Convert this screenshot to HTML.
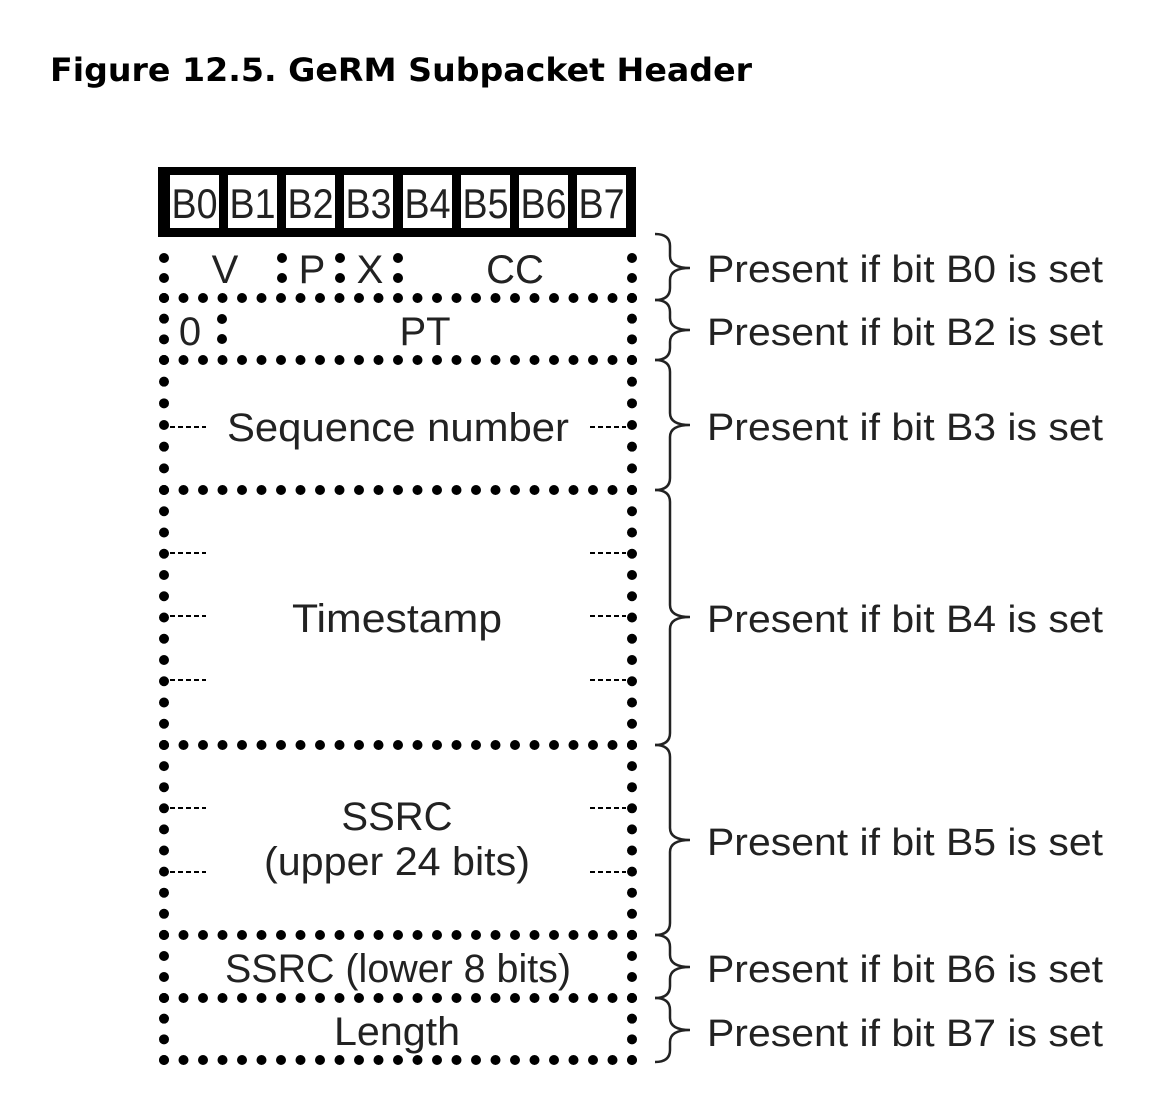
<!DOCTYPE html>
<html><head><meta charset="utf-8"><style>
html,body{margin:0;padding:0;background:#fff;}
svg{display:block;}
</style></head><body>
<svg width="1152" height="1116" viewBox="0 0 1152 1116" xmlns="http://www.w3.org/2000/svg">
<text x="50" y="81" font-family="DejaVu Sans, Liberation Sans, sans-serif" font-weight="bold" font-size="32" fill="#000" textLength="702" lengthAdjust="spacingAndGlyphs">Figure 12.5. GeRM Subpacket Header</text>
<rect x="158" y="167" width="478" height="70" fill="#000"/>
<g fill="#fff">
<rect x="170" y="175" width="49" height="53"/><rect x="228" y="175" width="49" height="53"/>
<rect x="286" y="175" width="49" height="53"/><rect x="344" y="175" width="49" height="53"/>
<rect x="403" y="175" width="49" height="53"/><rect x="461" y="175" width="49" height="53"/>
<rect x="519" y="175" width="49" height="53"/><rect x="577" y="175" width="49" height="53"/>
</g>
<g font-family="Liberation Sans, sans-serif" font-size="42" fill="#222" text-anchor="middle">
<text x="194.5" y="218" textLength="46" lengthAdjust="spacingAndGlyphs">B0</text>
<text x="252.5" y="218" textLength="46" lengthAdjust="spacingAndGlyphs">B1</text>
<text x="310.5" y="218" textLength="46" lengthAdjust="spacingAndGlyphs">B2</text>
<text x="368.5" y="218" textLength="46" lengthAdjust="spacingAndGlyphs">B3</text>
<text x="427.5" y="218" textLength="46" lengthAdjust="spacingAndGlyphs">B4</text>
<text x="485.5" y="218" textLength="46" lengthAdjust="spacingAndGlyphs">B5</text>
<text x="543.5" y="218" textLength="46" lengthAdjust="spacingAndGlyphs">B6</text>
<text x="601.5" y="218" textLength="46" lengthAdjust="spacingAndGlyphs">B7</text>
</g>
<g stroke="#000" stroke-width="10" stroke-linecap="round" stroke-dasharray="0 19.5" fill="none">
<line x1="164" y1="298" x2="632.5" y2="298"/>
<line x1="164" y1="360" x2="632.5" y2="360"/>
<line x1="164" y1="490" x2="632.5" y2="490"/>
<line x1="164" y1="745" x2="632.5" y2="745"/>
<line x1="164" y1="935" x2="632.5" y2="935"/>
<line x1="164" y1="998" x2="632.5" y2="998"/>
<line x1="164" y1="1060" x2="632.5" y2="1060"/>
</g>
<g stroke="#000" stroke-width="10" stroke-linecap="round" fill="none">
<path d="M164 258 V298.5 M632 258 V298.5" stroke-dasharray="0 20"/>
<path d="M164 298 V360.5 M632 298 V360.5" stroke-dasharray="0 20.67"/>
<path d="M164 360 V490.5 M632 360 V490.5" stroke-dasharray="0 21.67"/>
<path d="M164 490 V745.5 M632 490 V745.5" stroke-dasharray="0 21.25"/>
<path d="M164 745 V935.5 M632 745 V935.5" stroke-dasharray="0 21.1"/>
<path d="M164 935 V998.5 M632 935 V998.5" stroke-dasharray="0 21"/>
<path d="M164 998 V1060.5 M632 998 V1060.5" stroke-dasharray="0 20.67"/>
</g>
<g fill="#000">
<circle cx="282" cy="258" r="5"/><circle cx="282" cy="278" r="5"/>
<circle cx="340" cy="258" r="5"/><circle cx="340" cy="278" r="5"/>
<circle cx="398" cy="258" r="5"/><circle cx="398" cy="278" r="5"/>
<circle cx="222" cy="319" r="5"/><circle cx="222" cy="339" r="5"/>
</g>
<g stroke="#000" stroke-width="2" stroke-dasharray="5 3" fill="none">
<path d="M170 427 H206 M590 427 H626"/>
<path d="M170 553 H206 M590 553 H626"/>
<path d="M170 616 H206 M590 616 H626"/>
<path d="M170 680 H206 M590 680 H626"/>
<path d="M170 808 H206 M590 808 H626"/>
<path d="M170 872 H206 M590 872 H626"/>
</g>
<g font-family="Liberation Sans, sans-serif" font-size="40" fill="#222" text-anchor="middle">
<text x="225" y="283">V</text>
<text x="312" y="283">P</text>
<text x="370" y="283">X</text>
<text x="515" y="283">CC</text>
<text x="190" y="345">0</text>
<text x="425" y="345">PT</text>
<text x="398" y="441" textLength="342" lengthAdjust="spacingAndGlyphs">Sequence number</text>
<text x="397" y="632" textLength="210" lengthAdjust="spacingAndGlyphs">Timestamp</text>
<text x="397" y="830">SSRC</text>
<text x="397" y="875" textLength="266" lengthAdjust="spacingAndGlyphs">(upper 24 bits)</text>
<text x="398" y="982" textLength="346" lengthAdjust="spacingAndGlyphs">SSRC (lower 8 bits)</text>
<text x="397" y="1045" textLength="126" lengthAdjust="spacingAndGlyphs">Length</text>
</g>
<g stroke="#222" stroke-width="2.5" fill="none">
<path d="M655 234 Q670 234 670 246 L670 256 Q670 268 690 268 Q670 268 670 280 L670 288 Q670 300 655 300"/>
<path d="M655 300 Q670 300 670 312 L670 318 Q670 330 690 330 Q670 330 670 342 L670 348 Q670 360 655 360"/>
<path d="M655 360 Q670 360 670 372 L670 413 Q670 425 690 425 Q670 425 670 437 L670 478 Q670 490 655 490"/>
<path d="M655 490 Q670 490 670 502 L670 605 Q670 617 690 617 Q670 617 670 629 L670 733 Q670 745 655 745"/>
<path d="M655 745 Q670 745 670 757 L670 828 Q670 840 690 840 Q670 840 670 852 L670 923 Q670 935 655 935"/>
<path d="M655 935 Q670 935 670 947 L670 955 Q670 967 690 967 Q670 967 670 979 L670 986 Q670 998 655 998"/>
<path d="M655 998 Q670 998 670 1010 L670 1018 Q670 1030 690 1030 Q670 1030 670 1042 L670 1050 Q670 1062 655 1062"/>
</g>
<g font-family="Liberation Sans, sans-serif" font-size="38" fill="#222">
<text x="707" y="282" textLength="396" lengthAdjust="spacingAndGlyphs">Present if bit B0 is set</text>
<text x="707" y="345" textLength="396" lengthAdjust="spacingAndGlyphs">Present if bit B2 is set</text>
<text x="707" y="440" textLength="396" lengthAdjust="spacingAndGlyphs">Present if bit B3 is set</text>
<text x="707" y="632" textLength="396" lengthAdjust="spacingAndGlyphs">Present if bit B4 is set</text>
<text x="707" y="855" textLength="396" lengthAdjust="spacingAndGlyphs">Present if bit B5 is set</text>
<text x="707" y="982" textLength="396" lengthAdjust="spacingAndGlyphs">Present if bit B6 is set</text>
<text x="707" y="1046" textLength="396" lengthAdjust="spacingAndGlyphs">Present if bit B7 is set</text>
</g>
</svg>
</body></html>
